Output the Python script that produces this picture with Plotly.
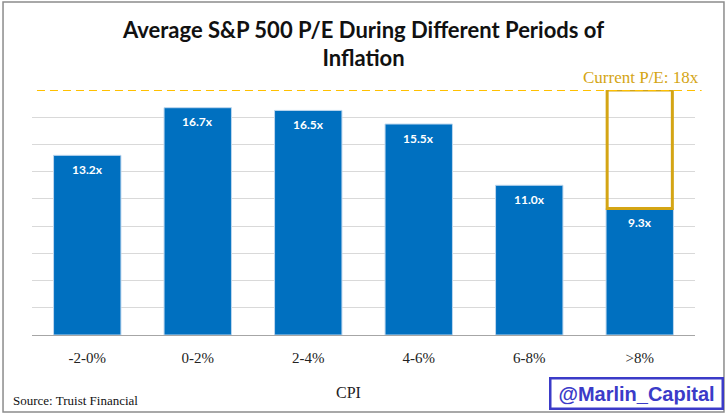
import plotly.graph_objects as go

categories = ["-2-0%", "0-2%", "2-4%", "4-6%", "6-8%", ">8%"]
pe_values = [13.2, 16.7, 16.5, 15.5, 11.0, 9.3]
current_pe = 18
labels = [f"{v:.1f}x" for v in pe_values]

fig = go.Figure()
fig.add_trace(go.Bar(
    x=categories, y=pe_values,
    marker=dict(color="#0070C0", line=dict(color="#BDD7EE", width=1)),
    width=0.61, hoverinfo="skip",
))
# gap box from last value up to current P/E
fig.add_trace(go.Bar(
    x=[categories[-1]], y=[current_pe - pe_values[-1]], base=[pe_values[-1]],
    marker=dict(color="rgba(255,255,255,0)", line=dict(color="#D4A514", width=3)),
    width=0.59, hoverinfo="skip",
))

for c, v, t in zip(categories, pe_values, labels):
    fig.add_annotation(x=c, y=v, yshift=-14, text=f"<b>{t}</b>", showarrow=False,
                       font=dict(family="Lato", size=12, color="white"))

fig.add_shape(type="line", xref="paper", yref="y", x0=0.0075, x1=1.01,
              y0=current_pe, y1=current_pe,
              line=dict(color="#FFC000", width=2, dash="8px,5px"))
fig.add_annotation(xref="paper", yref="y", x=1.009, y=current_pe, yshift=13,
                   text="Current P/E: 18x", showarrow=False, xanchor="right", yanchor="middle",
                   font=dict(family="Liberation Serif", size=17, color="#D4A514"))

fig.add_annotation(xref="paper", yref="paper", x=0.478, y=-0.233, text="CPI",
                   showarrow=False, xanchor="center", yanchor="middle",
                   font=dict(family="Liberation Serif", size=16, color="#222"))
fig.add_annotation(xref="paper", yref="paper", x=-0.032, y=-0.268, xanchor="left", yanchor="middle",
                   text="Source: Truist Financial", showarrow=False,
                   font=dict(family="Liberation Serif", size=13, color="#111"))
fig.add_annotation(xref="paper", yref="paper", x=0.912, y=-0.239, xanchor="center", yanchor="middle",
                   text="<b>@Marlin_Capital</b>", showarrow=False,
                   font=dict(family="Liberation Sans", size=20, color="#3B3BC8"),
                   bordercolor="#3B3BC8", borderwidth=2.5, borderpad=3, bgcolor="white",
                   width=164, height=22)

# outer frame
fig.add_shape(type="rect", xref="paper", yref="paper",
              x0=-0.0437, x1=1.0437, y0=-0.314, y1=1.359,
              line=dict(color="#8C8C8C", width=1.5), layer="above")

fig.update_layout(
    width=727, height=416,
    margin=dict(l=32, r=32, t=90, b=81),
    paper_bgcolor="white", plot_bgcolor="white",
    barmode="overlay", showlegend=False,
    title=dict(text="<b>Average S&P 500 P/E During Different Periods of<br>Inflation</b>",
               x=0.5, xanchor="center", y=0.909, yanchor="middle",
               font=dict(family="Lato", size=22, color="#111")),
    xaxis=dict(showline=True, linecolor="#A6A6A6", linewidth=1, ticks="",
               ticklabelstandoff=9,
               tickfont=dict(family="Liberation Serif", size=15, color="#222"),
               showgrid=False),
    yaxis=dict(range=[0, 18], dtick=2, showgrid=True, gridcolor="#D9D9D9", gridwidth=1,
               showticklabels=False, zeroline=False, fixedrange=True),
)

fig.write_html("out.html", config={"displayModeBar": False},
               post_script="document.body.style.margin='0';")
